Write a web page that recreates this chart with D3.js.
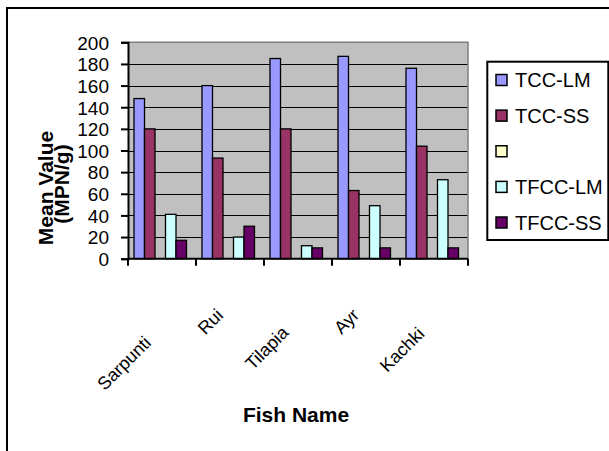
<!DOCTYPE html>
<html>
<head>
<meta charset="utf-8">
<script src="https://cdn.jsdelivr.net/npm/d3@7"></script>
<style>
  html, body { margin: 0; padding: 0; background: #ffffff; }
  svg { display: block; font-family: "Liberation Sans", Arial, sans-serif; }
</style>
</head>
<body>
<svg id="chart" width="609" height="451"></svg>
<script>
// Fish names along the category axis
const categories = ["Sarpunti", "Rui", "Tilapia", "Ayr", "Kachki"];

// Series names (the third series has no name and no values)
const seriesNames = ["TCC-LM", "TCC-SS", "", "TFCC-LM", "TFCC-SS"];

// Mean values (MPN/g) per fish, one array per series
const tccLM  = [148, 160, 185, 187, 176];
const tccSS  = [120, 93, 120, 63, 104];
const blank  = [null, null, null, null, null];
const tfccLM = [41, 20, 12, 49, 73];
const tfccSS = [17, 30, 10, 10, 10];

// Y axis tick values
const yTicks = [0, 20, 40, 60, 80, 100, 120, 140, 160, 180, 200];

const seriesValues = [tccLM, tccSS, blank, tfccLM, tfccSS];
const seriesColors = ["#9999FF", "#993366", "#FFFFCC", "#CCFFFF", "#660066"];

const svg = d3.select("#chart");

// Chart frame
svg.append("rect")
  .attr("x", 7).attr("y", 8)
  .attr("width", 640).attr("height", 480)
  .attr("fill", "#ffffff")
  .attr("stroke", "#000000").attr("stroke-width", 2);

const plot = { left: 128, right: 468, top: 42.3, bottom: 258.7 };

const x = d3.scaleBand().domain(categories).range([plot.left, plot.right]).padding(0);
const xs = d3.scaleBand().domain(d3.range(seriesNames.length)).range([6, 58.5]).padding(0);
const y = d3.scaleLinear().domain([0, 200]).range([plot.bottom, plot.top]);

// Plot background
svg.append("rect")
  .attr("x", plot.left).attr("y", plot.top)
  .attr("width", plot.right - plot.left).attr("height", plot.bottom - plot.top)
  .attr("fill", "#C0C0C0");

// Horizontal gridlines
svg.append("g")
  .selectAll("line")
  .data(yTicks.filter(t => t > 0 && t < 200))
  .join("line")
  .attr("x1", plot.left).attr("x2", plot.right)
  .attr("y1", d => Math.round(y(d)) + 0.5).attr("y2", d => Math.round(y(d)) + 0.5)
  .attr("stroke", "#000000").attr("stroke-width", 1.2);

// Plot border (top / right)
svg.append("path")
  .attr("d", `M${plot.left},${plot.top}H${plot.right}V${plot.bottom}`)
  .attr("fill", "none").attr("stroke", "#808080").attr("stroke-width", 1.5);

// Bars
const barData = [];
seriesValues.forEach((vals, si) => {
  vals.forEach((v, ci) => {
    if (v !== null) barData.push({ cat: categories[ci], s: si, v: v });
  });
});

svg.append("g")
  .selectAll("rect")
  .data(barData)
  .join("rect")
  .attr("x", d => x(d.cat) + xs(d.s))
  .attr("y", d => y(d.v))
  .attr("width", xs.bandwidth())
  .attr("height", d => y(0) - y(d.v))
  .attr("fill", d => seriesColors[d.s])
  .attr("stroke", "#000000").attr("stroke-width", 1.3);

// Y axis
const yAxis = d3.axisLeft(y).tickValues(yTicks).tickSize(7).tickPadding(12);
const gy = svg.append("g").attr("transform", `translate(${plot.left},0)`).call(yAxis);
gy.select(".domain").attr("stroke", "#000").attr("stroke-width", 2);
gy.selectAll(".tick line").attr("stroke", "#000").attr("stroke-width", 2);
gy.selectAll(".tick text")
  .attr("fill", "#000")
  .style("font-size", "19px")
  .attr("dy", "0.36em");

// X axis: ticks at category boundaries
const gx = svg.append("g");
gx.append("line")
  .attr("x1", plot.left).attr("x2", plot.right)
  .attr("y1", plot.bottom).attr("y2", plot.bottom)
  .attr("stroke", "#000").attr("stroke-width", 2);
const boundaries = categories.map(c => x(c)).concat([plot.right]);
gx.selectAll("line.tick")
  .data(boundaries)
  .join("line")
  .attr("class", "tick")
  .attr("x1", d => d).attr("x2", d => d)
  .attr("y1", plot.bottom).attr("y2", plot.bottom + 7)
  .attr("stroke", "#000").attr("stroke-width", 2);

// Rotated category labels
const labelSize = 18;
gx.selectAll("text.cat")
  .data(categories)
  .join("text")
  .attr("class", "cat")
  .style("font-size", labelSize + "px")
  .attr("text-anchor", "middle")
  .attr("dy", "0.35em")
  .text(d => d)
  .each(function (d) {
    const len = this.getComputedTextLength();
    const cx = x(d) + x.bandwidth() / 2 - 7.4 - 0.457 * len;
    const cy = 293.4 + 1.039 * len;
    d3.select(this)
      .attr("x", 0).attr("y", 0)
      .attr("transform", `translate(${cx},${cy}) rotate(-45)`);
  });

// Axis titles
svg.append("text")
  .attr("x", 296).attr("y", 421.7)
  .attr("text-anchor", "middle")
  .style("font-size", "21px").style("font-weight", "bold")
  .text("Fish Name");

const yTitle = svg.append("text")
  .attr("transform", "translate(0,0) rotate(-90)")
  .attr("text-anchor", "middle")
  .style("font-size", "21px").style("font-weight", "bold");
yTitle.append("tspan").attr("x", -188).attr("y", 52.7).text("Mean Value");
yTitle.append("tspan").attr("x", -184).attr("y", 69).text("(MPN/g)");

// Legend
const legend = svg.append("g");
legend.append("rect")
  .attr("x", 487.3).attr("y", 61.7)
  .attr("width", 121).attr("height", 178.3)
  .attr("fill", "#ffffff")
  .attr("stroke", "#000").attr("stroke-width", 2);

const rowY = d3.scalePoint().domain(d3.range(seriesNames.length)).range([80, 222.5]);
const rows = legend.selectAll("g.item")
  .data(seriesNames.map((n, i) => ({ name: n, i: i })))
  .join("g")
  .attr("class", "item")
  .attr("transform", d => `translate(0,${rowY(d.i)})`);
rows.append("rect")
  .attr("x", 496).attr("y", -5.5)
  .attr("width", 11).attr("height", 11)
  .attr("fill", d => seriesColors[d.i])
  .attr("stroke", "#000").attr("stroke-width", 1.5);
rows.append("text")
  .attr("x", 515).attr("y", 0).attr("dy", "0.36em")
  .style("font-size", "20px")
  .text(d => d.name);
</script>
</body>
</html>
